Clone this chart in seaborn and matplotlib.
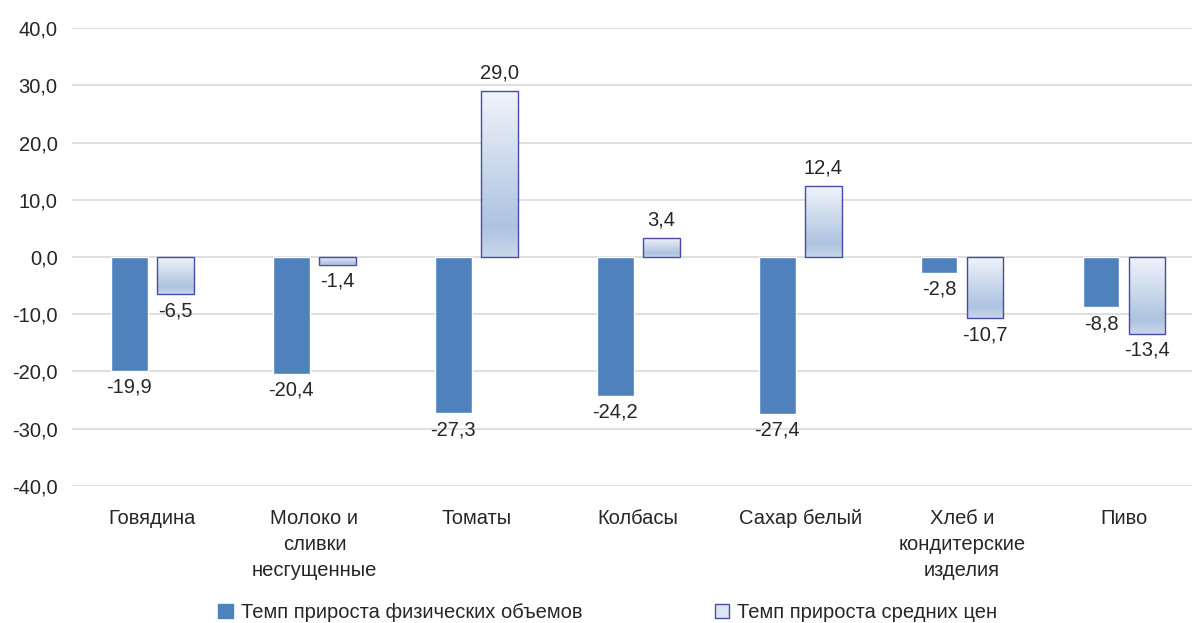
import numpy as np
import pandas as pd
import seaborn as sns
import matplotlib.pyplot as plt
from matplotlib.colors import LinearSegmentedColormap
from matplotlib.patches import Patch

# data
categories = ['Говядина', 'Молоко и\nсливки\nнесгущенные', 'Томаты', 'Колбасы',
              'Сахар белый', 'Хлеб и\nкондитерские\nизделия', 'Пиво']
volume = [-19.9, -20.4, -27.3, -24.2, -27.4, -2.8, -8.8]
prices = [-6.5, -1.4, 29.0, 3.4, 12.4, -10.7, -13.4]
series = ['Темп прироста физических объемов', 'Темп прироста средних цен']
yticks = [-40, -30, -20, -10, 0, 10, 20, 30, 40]

df = pd.DataFrame({
    'cat': categories * 2,
    'val': volume + prices,
    'series': [series[0]] * len(categories) + [series[1]] * len(categories),
})

sns.set_style('white')
plt.rcParams['font.family'] = ['Liberation Sans', 'DejaVu Sans']
fs = 14.5

fig = plt.figure(figsize=(11.92, 6.23), dpi=100)
ax = fig.add_axes([0.06, 0.22, 0.94, 0.735])

dark = '#4f81bd'
edge = '#4a4aa8'
sns.barplot(data=df, x='cat', y='val', hue='series', hue_order=series,
            palette=[dark, '#dce6f2'], width=0.568, gap=0.2,
            legend=False, ax=ax, saturation=1, zorder=3)

# gradient fill for the price bars
grad = LinearSegmentedColormap.from_list(
    'g', [(0, '#f0f4fa'), (0.82, '#adc3e0'), (1, '#c8d7eb')])
n = len(categories)
vol_bars = ax.patches[:n]
price_bars = ax.patches[n:2 * n]
for p in price_bars:
    x0, y0 = p.get_x(), p.get_y()
    w, h = p.get_width(), p.get_height()
    ylo, yhi = min(y0, y0 + h), max(y0, y0 + h)
    im = ax.imshow(np.linspace(0, 1, 100).reshape(-1, 1), cmap=grad,
                   extent=(x0, x0 + w, ylo, yhi), origin='upper',
                   aspect='auto', zorder=3)
    im.set_clip_path(p)
    p.set_facecolor('none')
    p.set_edgecolor(edge)
    p.set_linewidth(1)
    p.set_zorder(4)

# value labels
def fmt(v):
    return f'{v:.1f}'.replace('.', ',')

for bars, vals in [(vol_bars, volume), (price_bars, prices)]:
    for p, v in zip(bars, vals):
        xc = p.get_x() + p.get_width() / 2
        if v >= 0:
            ax.annotate(fmt(v), (xc, v), xytext=(0, 6), textcoords='offset points',
                        ha='center', va='bottom', fontsize=fs)
        else:
            ax.annotate(fmt(v), (xc, v), xytext=(0, -5), textcoords='offset points',
                        ha='center', va='top', fontsize=fs)

ax.set_ylim(-40, 40)
ax.set_xlim(-0.5, 6.42)
ax.set_yticks(yticks)
ax.set_yticklabels([fmt(t) for t in yticks])
ax.grid(axis='y', color='#d9d9d9', lw=1.2, zorder=0)
ax.set_axisbelow(True)
ax.set_xlabel('')
ax.set_ylabel('')
ax.tick_params(axis='y', labelsize=fs, pad=10, length=0)
ax.tick_params(axis='x', labelsize=fs, pad=16.5, length=0)
for lbl in ax.get_xticklabels():
    lbl.set_linespacing(1.48)
sns.despine(left=True, bottom=True)

handles = [Patch(facecolor=dark, edgecolor=dark),
           Patch(facecolor='#dce6f2', edgecolor=edge)]
fig.legend(handles, series, loc='lower center', bbox_to_anchor=(0.51, -0.027),
           ncol=2, frameon=False, fontsize=fs, handlelength=0.7,
           handleheight=0.7, handletextpad=0.4, columnspacing=6.6)

plt.savefig('out.png', dpi=100)
